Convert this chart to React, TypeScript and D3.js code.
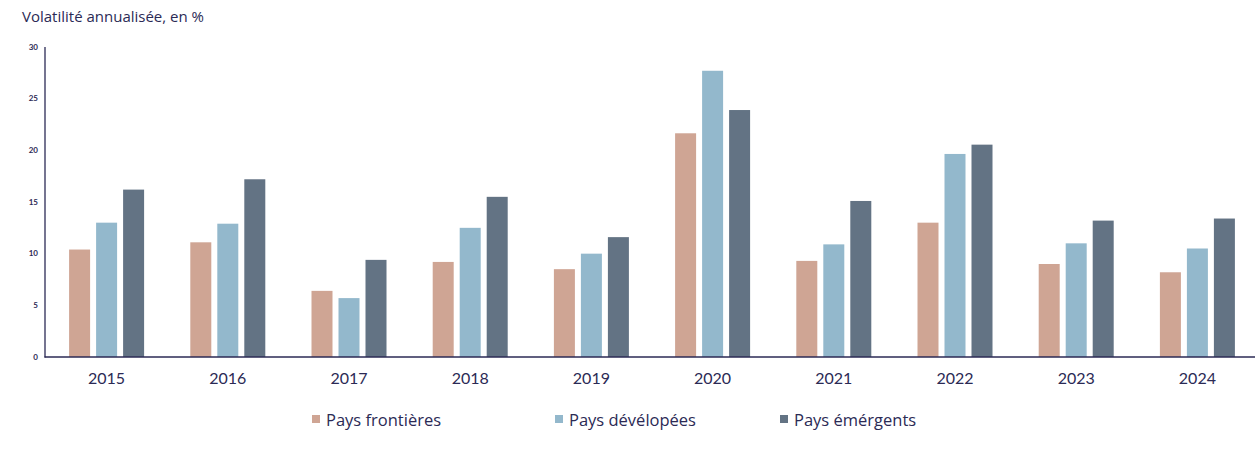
import React from "react";
import * as d3 from "d3";

const years = ["2015", "2016", "2017", "2018", "2019", "2020", "2021", "2022", "2023", "2024"];
const seriesNames = ["Pays frontières", "Pays dévélopées", "Pays émérgents"];
const frontieres = [10.4, 11.1, 6.4, 9.2, 8.5, 21.65, 9.3, 13.0, 9.0, 8.2];
const developpes = [13.0, 12.9, 5.7, 12.5, 10.0, 27.7, 10.9, 19.65, 11.0, 10.5];
const emergents = [16.2, 17.2, 9.4, 15.5, 11.6, 23.9, 15.1, 20.55, 13.2, 13.4];
const yTicks = [0, 5, 10, 15, 20, 25, 30];
const colors = ["#CFA594", "#93B8CC", "#637384"];

const W = 1255;
const H = 460;
const TEXT = "#2B2A55";
const FONT = "Lato, 'Noto Sans', sans-serif";
const FONT2 = "'Open Sans', 'Noto Sans', sans-serif";

export default function App() {
  const values = [frontieres, developpes, emergents];
  const x = d3.scaleBand<string>().domain(years).range([46, 1258]).padding(0);
  const inner = d3
    .scaleBand<string>()
    .domain(seriesNames)
    .range([0, 75])
    .paddingInner(6 / 27)
    .paddingOuter(0);
  const y = d3.scaleLinear().domain([0, 30]).range([357, 47]);
  const legendX = [312, 555, 780];

  return (
    <svg
      width={W}
      height={H}
      style={{ position: "absolute", left: 0, top: 0, background: "#fff" }}
      fontFamily={FONT}
    >
      <text x={22} y={22} fontSize={15} fontWeight={500} fill={TEXT} fontFamily={FONT2}>
        Volatilité annualisée, en %
      </text>
      {yTicks.map((t) => (
        <text
          key={t}
          x={38}
          y={y(t)}
          dy="0.35em"
          textAnchor="end"
          fontSize={8}
          fontWeight={700}
          fill={TEXT}
        >
          {t}
        </text>
      ))}
      {years.map((yr, i) => {
        const cx = (x(yr) as number) + x.bandwidth() / 2;
        const g0 = cx - 37.5;
        return (
          <g key={yr}>
            {seriesNames.map((s, k) => (
              <rect
                key={s}
                x={g0 + (inner(s) as number)}
                y={y(values[k][i])}
                width={inner.bandwidth()}
                height={y(0) - y(values[k][i])}
                fill={colors[k]}
              />
            ))}
            <text x={cx} y={384} textAnchor="middle" fontSize={16} fill={TEXT}>
              {yr}
            </text>
          </g>
        );
      })}
      <line x1={45} x2={45} y1={47} y2={357.5} stroke={TEXT} strokeWidth={1.3} />
      <line x1={44.5} x2={1255} y1={357} y2={357} stroke={TEXT} strokeWidth={1.5} />
      {seriesNames.map((s, k) => (
        <g key={s}>
          <rect x={legendX[k]} y={415} width={8} height={8} fill={colors[k]} />
          <text
            x={legendX[k] + 14}
            y={426}
            fontSize={16.5}
            fontWeight={500}
            fill={TEXT}
            fontFamily={FONT2}
          >
            {s}
          </text>
        </g>
      ))}
    </svg>
  );
}
